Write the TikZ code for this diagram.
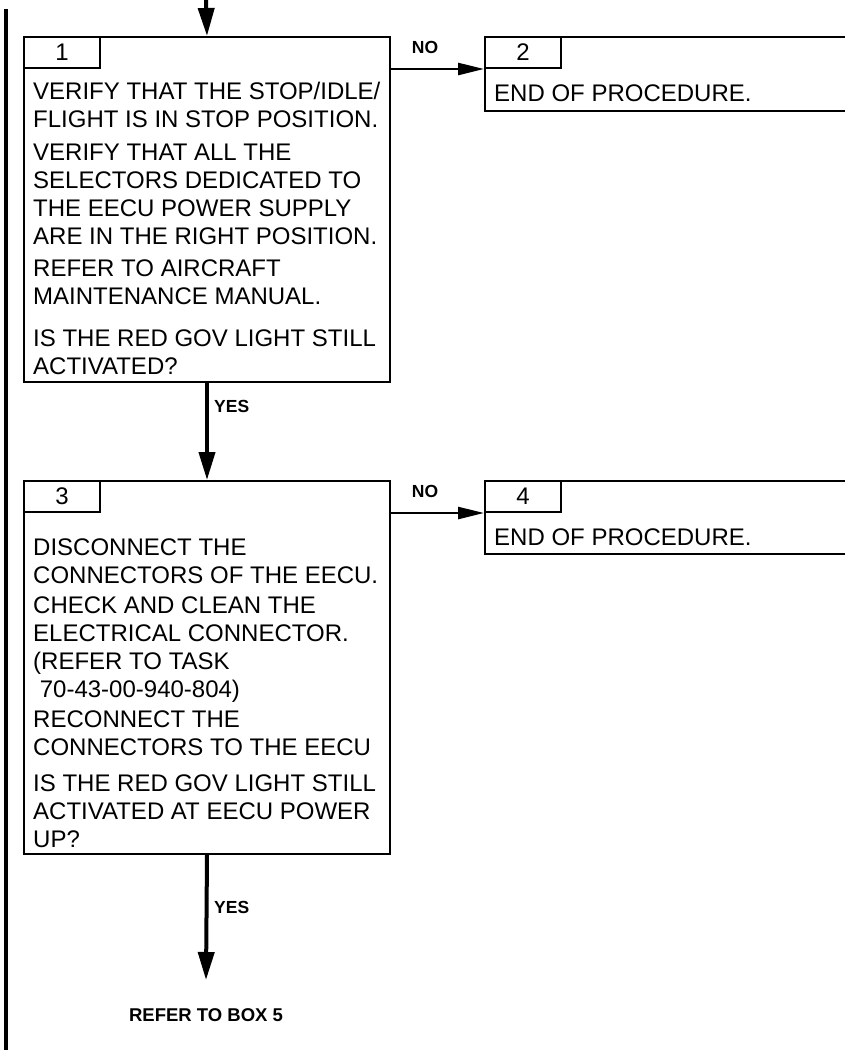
\documentclass[tikz,border=0pt]{standalone}
\usepackage{fontspec}
\setmainfont{Liberation Sans}
\usetikzlibrary{arrows.meta}

\begin{document}
\begin{tikzpicture}[x = 1pt, y = -1pt,
	box/.style = {draw, line width = 2pt, anchor = north west, inner sep = 0pt},
	tab/.style = {draw, line width = 2pt, anchor = north west, inner sep = 0pt,
		minimum width = 76pt, minimum height = 31pt, font = \fontsize{24}{28}\selectfont},
	txt/.style = {align = left, inner sep = 0pt, font = \fontsize{24}{28}\selectfont},
	lbl/.style = {inner sep = 0pt, font = \fontsize{17.5}{20}\selectfont\bfseries},
	down/.style = {-{Triangle[length = 28pt, width = 16pt]}, line width = 4pt},
	side/.style = {-{Triangle[length = 26pt, width = 12pt]}, line width = 2.5pt}]
	\useasboundingbox (0,0) rectangle (844,1050);
	
	\coordinate (in) at (206,0);
	\coordinate (out) at (206,980);
	
	\node[box, minimum width = 366pt, minimum height = 345pt] (b1) at (23,36) {};
	\node[tab] (t1) at (b1.north west) {1};
	\node[txt, anchor = north west] (x1) at (33,82) {VERIFY THAT THE STOP/IDLE/\\
		FLIGHT IS IN STOP POSITION.\\[5pt]
		VERIFY THAT ALL THE\\
		SELECTORS DEDICATED TO\\
		THE EECU POWER SUPPLY\\
		ARE IN THE RIGHT POSITION.\\[4pt]
		REFER TO AIRCRAFT\\
		MAINTENANCE MANUAL.\\[14pt]
		IS THE RED GOV LIGHT STILL\\
		ACTIVATED?};
	
	\node[box, minimum width = 370pt, minimum height = 74pt] (b2) at (484,36) {};
	\node[tab] (t2) at (b2.north west) {2};
	\node[txt, anchor = base west] (x2) at (494,101) {END OF PROCEDURE.};
	
	\node[box, minimum width = 366pt, minimum height = 373pt] (b3) at (23,480) {};
	\node[tab] (t3) at (b3.north west) {3};
	\node[txt, anchor = north west] (x3) at (33,539) {DISCONNECT THE\\
		CONNECTORS OF THE EECU.\\[2pt]
		CHECK AND CLEAN THE\\
		ELECTRICAL CONNECTOR.\\
		(REFER TO TASK\\
		\ 70-43-00-940-804)\\[2pt]
		RECONNECT THE\\
		CONNECTORS TO THE EECU\\[8pt]
		IS THE RED GOV LIGHT STILL\\
		ACTIVATED AT EECU POWER\\
		UP?};
	
	\node[box, minimum width = 370pt, minimum height = 73pt] (b4) at (484,480) {};
	\node[tab] (t4) at (b4.north west) {4};
	\node[txt, anchor = base west] (x4) at (494,545) {END OF PROCEDURE.};
	
	\draw[line width = 4pt] (6,9) -- (6,1050);
	
	\draw[down] (in) -- (b1.north);
	\draw[down] (b1.south) -- (b3.north);
	\draw[down] (b3.south) -- (out);
	\draw[side] (t2.south west -| b1.east) -- (t2.south west);
	\draw[side] (t4.south west -| b3.east) -- (t4.south west);
	
	\node[lbl] (no1) at (425,47) {NO};
	\node[lbl] (no2) at (425,491) {NO};
	\node[lbl, anchor = west] (yes1) at (214,406) {YES};
	\node[lbl, anchor = west] (yes2) at (214,907) {YES};
	\node[lbl, font = \fontsize{18.5}{21}\selectfont\bfseries] (ref) at (206,1015) {REFER TO BOX 5};
\end{tikzpicture}
\end{document}
